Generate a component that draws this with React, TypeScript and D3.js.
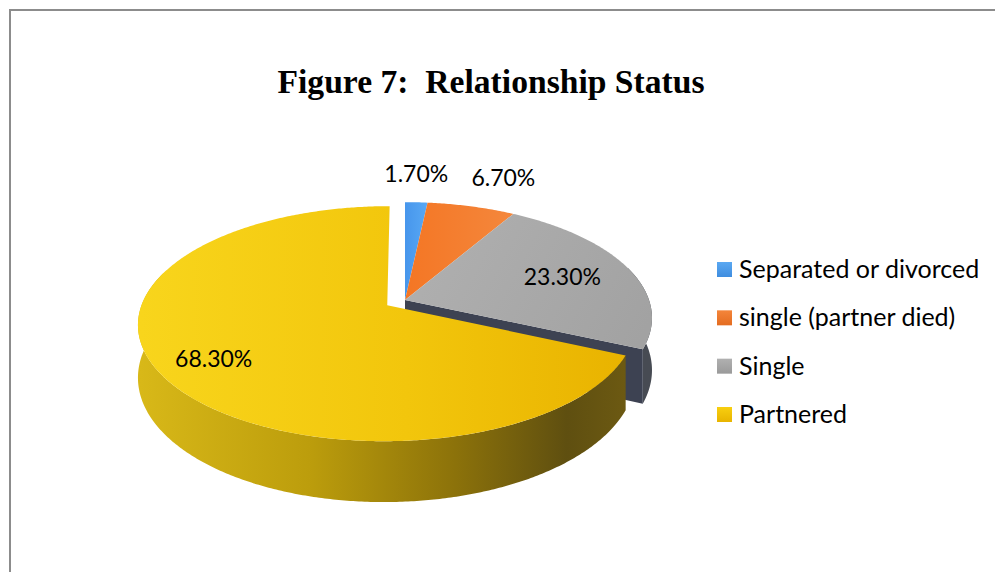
import React from 'react'
import * as d3 from 'd3'

const categories = ['Separated or divorced', 'single (partner died)', 'Single', 'Partnered']
const values = [1.7, 6.7, 23.3, 68.3]
const valueLabels = ['1.70%', '6.70%', '23.30%', '68.30%']
const title = 'Figure 7:  Relationship Status'

const W = 995
const H = 572
// pie geometry (vertex of the unexploded slices)
const cx = 405
const cy = 300
const R = 244
const RY = 113
const K = 0.155 // perspective
const DEPTH = 51

const topFill = ['url(#gBlue)', 'url(#gOrange)', 'url(#gGrayTop)', 'url(#gYellowTop)']
const sideFill = ['#2f6fb0', '#b2541a', '#474b53', 'url(#gYellowSide)']
const swatch = ['url(#lBlue)', 'url(#lOrange)', 'url(#lGray)', 'url(#lYellow)']
const explode = [0, 0, 0, 21]

const project = (u: number, v: number, h: number): [number, number] => {
  const s = 1 / (1 - (K * v) / R)
  return [cx + u * s, cy + ((RY * v) / R + h * DEPTH) * s]
}

// only the front part of the rim wall can be seen
const sideLo = Math.PI / 2 - 0.3
const sideHi = (3 * Math.PI) / 2 + 0.3

const App = () => {
  const arcs = d3.pie<number>().sort(null).value(d => d)(values)
  const line = d3.line()

  const slices = arcs.map((a, i) => {
    const mid = (a.startAngle + a.endAngle) / 2
    const off: [number, number] = [explode[i] * Math.sin(mid), -explode[i] * Math.cos(mid)]
    const pt = (ang: number, r: number, h: number) =>
      project(r * Math.sin(ang) + off[0], -r * Math.cos(ang) + off[1], h)
    const sweep = (a0: number, a1: number) => {
      const steps = Math.max(2, Math.ceil((a1 - a0) / 0.01))
      return d3.range(steps + 1).map(j => a0 + ((a1 - a0) * j) / steps)
    }
    const rimTop = sweep(a.startAngle, a.endAngle).map(t => pt(t, R, 0))
    const top = line([pt(0, 0, 0), ...rimTop])! + 'Z'

    let side: string | null = null
    const s0 = Math.max(a.startAngle, sideLo)
    const s1 = Math.min(a.endAngle, sideHi)
    if (s1 > s0) {
      const angs = sweep(s0, s1)
      const t = angs.map(x => pt(x, R, 0))
      const b = angs.map(x => pt(x, R, 1)).reverse()
      side = line([...t, ...b])! + 'Z'
    }
    const cut = line([pt(0, 0, 0), pt(a.endAngle, R, 0), pt(a.endAngle, R, 1), pt(0, 0, 1)])! + 'Z'
    return {a, mid, pt, top, side, cut, i}
  })

  const back = slices.slice(0, 3)
  const front = slices[3]

  // label placement: outside for the thin slices, inside for the big ones
  const labelR = [1.0, 1.0, 0.7, 0.78]
  const labelDx = [0, 32, 0, 0]
  const labelDy = [-20, -20, 8, 10]

  const legendY = d3.scalePoint<number>().domain(d3.range(categories.length)).range([269.5, 414.5])

  return (
    <svg width={W} height={H} style={{position: 'absolute', left: 0, top: 0, background: '#fff'}}>
      <defs>
        <linearGradient id="gYellowTop" gradientUnits="userSpaceOnUse" x1={140} y1={0} x2={625} y2={0}>
          <stop offset="0" stopColor="#f8d51c" />
          <stop offset="0.55" stopColor="#f2c60c" />
          <stop offset="1" stopColor="#e9b300" />
        </linearGradient>
        <linearGradient id="gYellowSide" gradientUnits="userSpaceOnUse" x1={140} y1={0} x2={625} y2={0}>
          <stop offset="0" stopColor="#d8b818" />
          <stop offset="0.35" stopColor="#bc9d0c" />
          <stop offset="0.65" stopColor="#8c720a" />
          <stop offset="0.88" stopColor="#5f4f10" />
          <stop offset="1" stopColor="#6c5912" />
        </linearGradient>
        <linearGradient id="gGrayTop" gradientUnits="userSpaceOnUse" x1={420} y1={220} x2={640} y2={340}>
          <stop offset="0" stopColor="#b0b0b0" />
          <stop offset="1" stopColor="#a2a2a2" />
        </linearGradient>
        <linearGradient id="gBlue" x1="0" y1="0" x2="1" y2="0">
          <stop offset="0" stopColor="#4796ec" />
          <stop offset="1" stopColor="#58a8f4" />
        </linearGradient>
        <linearGradient id="gOrange" x1="0" y1="0" x2="1" y2="0">
          <stop offset="0" stopColor="#f47624" />
          <stop offset="1" stopColor="#f4873c" />
        </linearGradient>
        <linearGradient id="lBlue" x1="0" y1="0" x2="0" y2="1">
          <stop offset="0" stopColor="#5aa8f2" />
          <stop offset="1" stopColor="#3f8ddf" />
        </linearGradient>
        <linearGradient id="lOrange" x1="0" y1="0" x2="0" y2="1">
          <stop offset="0" stopColor="#f4853a" />
          <stop offset="1" stopColor="#e46c20" />
        </linearGradient>
        <linearGradient id="lGray" x1="0" y1="0" x2="0" y2="1">
          <stop offset="0" stopColor="#b0b0b0" />
          <stop offset="1" stopColor="#9a9a9a" />
        </linearGradient>
        <linearGradient id="lYellow" x1="0" y1="0" x2="0" y2="1">
          <stop offset="0" stopColor="#f8cf10" />
          <stop offset="1" stopColor="#e8b400" />
        </linearGradient>
      </defs>

      <rect x={10} y={10} width={1000} height={600} fill="#fff" stroke="#8c8c8c" strokeWidth={2} />

      <text x={491} y={93} textAnchor="middle" fontFamily="Liberation Serif" fontWeight="bold"
        fontSize={34} textLength={427} lengthAdjust="spacingAndGlyphs" style={{whiteSpace: 'pre'}}>
        {title}
      </text>

      {/* back slices: sides, then cut face, then tops */}
      {back.map(s => s.side && <path key={'s' + s.i} d={s.side} fill={sideFill[s.i]} />)}
      <path d={back[2].cut} fill="#3d4252" />
      {back.map(s => <path key={'t' + s.i} d={s.top} fill={topFill[s.i]} />)}

      {/* exploded big slice */}
      {front.side && <path d={front.side} fill={sideFill[3]} />}
      <path d={front.top} fill={topFill[3]} />

      {slices.map(s => {
        const [x, y] = s.pt(s.mid, R * labelR[s.i], 0)
        return (
          <text key={'l' + s.i} x={x + labelDx[s.i]} y={y + labelDy[s.i]} textAnchor="middle"
            fontFamily="Lato" fontSize={23} fill="#000">
            {valueLabels[s.i]}
          </text>
        )
      })}

      {categories.map((c, i) => (
        <g key={c} transform={`translate(717,${legendY(i)})`}>
          <rect x={0} y={-7.5} width={15} height={15} fill={swatch[i]} />
          <text x={22} y={8.5} fontFamily="Lato" fontSize={25} fill="#000">{c}</text>
        </g>
      ))}
    </svg>
  )
}

export default App
